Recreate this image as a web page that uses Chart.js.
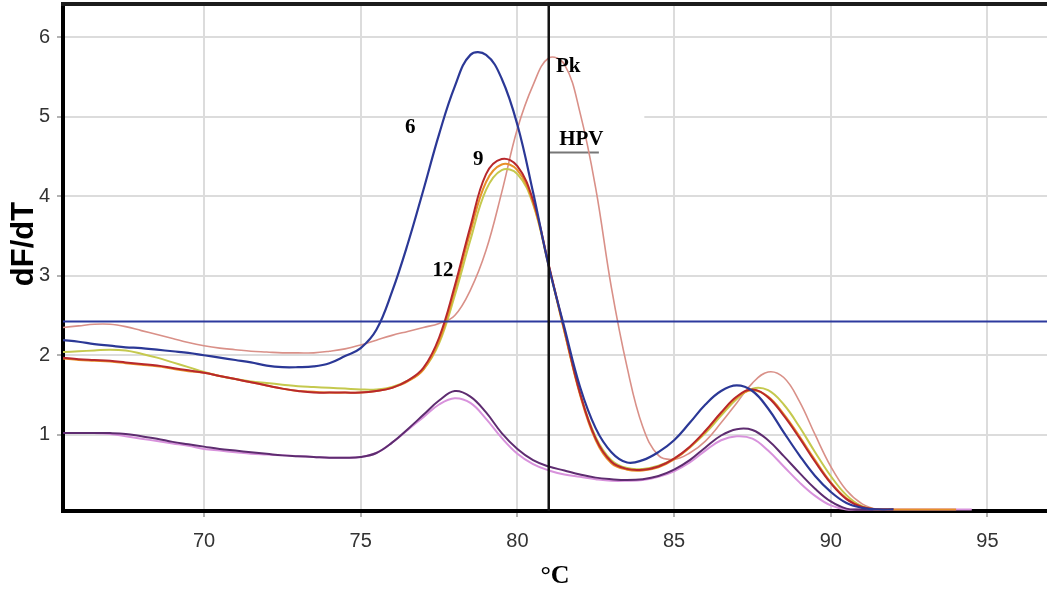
<!DOCTYPE html>
<html><head><meta charset="utf-8">
<script src="https://cdn.jsdelivr.net/npm/chart.js@4.4.1/dist/chart.umd.min.js"></script>
<style>html,body{margin:0;padding:0;background:#fff;}#wrap{position:relative;width:1047px;height:592px;}</style>
</head><body><div id="wrap"><canvas id="c"></canvas></div>
<script>
// Temperature grid (°C)
const temperatures = [65.5,66,66.5,67,67.5,68,68.5,69,69.5,70,
70.5,71,71.5,72,72.5,73,73.5,74,74.5,75,
75.5,76,76.5,77,77.5,78,78.5,79,79.5,80,
80.5,81,81.5,82,82.5,83,83.5,84,84.5,85,
85.5,86,86.5,87,87.5,88,88.5,89,89.5,90,
90.5,91,91.5,92,92.5,93,93.5,94,94.5];

// dF/dT series
const curve6 = [2.19,2.17,2.14,2.12,2.10,2.09,2.07,2.05,2.03,2.00,
1.97,1.94,1.91,1.87,1.85,1.85,1.86,1.90,1.99,2.09,
2.32,2.80,3.40,4.08,4.78,5.38,5.78,5.78,5.48,4.90,
4.05,3.12,2.35,1.60,1.08,0.78,0.65,0.68,0.78,0.93,
1.15,1.38,1.55,1.62,1.55,1.33,1.03,0.74,0.48,0.28,
0.14,0.08,0.06,0.06,null,null,null,null,null];

const curvePk = [2.35,2.37,2.39,2.39,2.36,2.31,2.26,2.21,2.16,2.12,
2.09,2.07,2.05,2.04,2.03,2.03,2.03,2.05,2.08,2.13,
2.19,2.25,2.30,2.35,2.40,2.50,2.82,3.32,4.05,4.85,
5.40,5.74,5.66,5.05,4.10,2.85,1.85,1.10,0.74,0.69,
0.77,0.92,1.15,1.40,1.65,1.79,1.72,1.42,1.00,0.60,
0.30,0.13,0.06,0.06,null,null,null,null,null];

const curve9 = [1.97,1.95,1.94,1.93,1.91,1.89,1.87,1.84,1.81,1.78,
1.74,1.70,1.66,1.62,1.58,1.55,1.53,1.53,1.53,1.53,
1.55,1.59,1.68,1.84,2.22,2.87,3.62,4.28,4.47,4.38,
3.95,3.14,2.32,1.52,0.95,0.66,0.57,0.56,0.60,0.70,
0.85,1.05,1.28,1.48,1.57,1.47,1.24,0.96,0.66,0.39,
0.19,0.09,0.06,0.06,null,null,null,null,null];

const curve12 = [1.96,1.94,1.93,1.92,1.90,1.88,1.86,1.83,1.80,1.78,
1.74,1.70,1.66,1.62,1.58,1.55,1.54,1.53,1.53,1.53,
1.55,1.59,1.67,1.82,2.18,2.82,3.55,4.18,4.40,4.33,
3.92,3.13,2.30,1.50,0.93,0.64,0.56,0.55,0.59,0.69,
0.84,1.04,1.27,1.47,1.56,1.48,1.26,0.98,0.68,0.40,
0.20,0.09,0.06,0.06,0.06,0.06,0.06,0.06,null];

const curveYellow = [2.04,2.05,2.06,2.07,2.06,2.02,1.97,1.91,1.85,1.79,
1.74,1.70,1.67,1.65,1.63,1.61,1.60,1.59,1.58,1.57,
1.57,1.60,1.68,1.82,2.15,2.75,3.45,4.08,4.33,4.28,
3.90,3.12,2.30,1.52,0.97,0.68,0.58,0.57,0.61,0.70,
0.84,1.02,1.24,1.45,1.58,1.56,1.38,1.10,0.78,0.48,
0.24,0.10,0.06,0.06,null,null,null,null,null];

const curvePurple = [1.02,1.02,1.02,1.02,1.01,0.98,0.95,0.91,0.88,0.85,
0.82,0.80,0.78,0.76,0.74,0.73,0.72,0.71,0.71,0.72,
0.77,0.90,1.07,1.25,1.43,1.55,1.48,1.28,1.02,0.82,
0.68,0.60,0.55,0.50,0.46,0.44,0.43,0.44,0.48,0.56,
0.68,0.84,0.99,1.07,1.06,0.93,0.73,0.52,0.32,0.16,
0.07,0.06,0.06,0.06,null,null,null,null,null];

const curveViolet = [1.02,1.02,1.02,1.01,0.98,0.95,0.92,0.89,0.86,0.82,
0.80,0.78,0.76,0.75,0.74,0.73,0.72,0.71,0.71,0.72,
0.77,0.90,1.06,1.22,1.38,1.46,1.40,1.20,0.96,0.76,
0.63,0.55,0.50,0.47,0.44,0.42,0.42,0.43,0.47,0.54,
0.65,0.80,0.93,0.98,0.95,0.80,0.60,0.40,0.23,0.11,
0.06,0.06,0.06,0.06,0.06,0.06,0.06,0.06,0.06];

// Axis ticks / ranges
const xTickValues = [70,75,80,85,90,95];
const yTickValues = [1,2,3,4,5,6];
const xRange = [65.5, 96.9];
const yRange = [0.04, 6.42];

// Reference lines
const thresholdX = [65.5, 96.9];
const thresholdY = [2.425, 2.425];
const markerX = [81.0, 81.0];
const markerY = [0.04, 6.42];

// Curve annotations (data coordinates)
const annoTexts = ['6','9','12','Pk','HPV'];
const annoX = [76.58, 78.75, 77.63, 81.62, 82.04];
const annoY = [4.86, 4.46, 3.07, 5.63, 4.72];
const hpvBoxX = [81.0, 84.05, 82.6];
const hpvBoxY = [5.0, 4.55];

const toXY = (xs, ys) => xs.map((t, i) => ({x: t, y: ys[i]}));

function curve(label, values, color, width) {
  return {label, data: toXY(temperatures, values), borderColor: color, borderWidth: width,
    pointRadius: 0, tension: 0.4, fill: false, spanGaps: false};
}

const decor = {
  id: 'decor',
  beforeDatasetsDraw(chart) {
    const {ctx, scales: {x, y}} = chart;
    const bx0 = x.getPixelForValue(hpvBoxX[0]), bx1 = x.getPixelForValue(hpvBoxX[1]);
    const by0 = y.getPixelForValue(hpvBoxY[0]), by1 = y.getPixelForValue(hpvBoxY[1]);
    ctx.save();
    ctx.fillStyle = '#ffffff';
    ctx.fillRect(bx0, by0 - 2, bx1 - bx0, by1 - by0 + 2);
    ctx.strokeStyle = '#777777';
    ctx.lineWidth = 2;
    ctx.beginPath();
    ctx.moveTo(bx0, by1);
    ctx.lineTo(x.getPixelForValue(hpvBoxX[2]), by1);
    ctx.stroke();
    ctx.restore();
  },
  afterDraw(chart) {
    const {ctx, chartArea: a, scales: {x, y}} = chart;
    ctx.save();
    ctx.strokeStyle = '#1c1c1c';
    ctx.lineWidth = 4;
    ctx.beginPath();
    ctx.moveTo(a.left - 2, a.top);
    ctx.lineTo(a.right, a.top);
    ctx.stroke();
    ctx.fillStyle = '#000';
    ctx.font = 'bold 21px "Liberation Serif", "Times New Roman", serif';
    ctx.textAlign = 'center';
    ctx.textBaseline = 'middle';
    annoTexts.forEach((t, i) => {
      ctx.fillText(t, x.getPixelForValue(annoX[i]), y.getPixelForValue(annoY[i]));
    });
    ctx.translate(24, 244);
    ctx.rotate(-Math.PI / 2);
    ctx.font = 'bold 31px "Liberation Sans", Arial, sans-serif';
    ctx.fillText('dF/dT', 0, 0);
    ctx.restore();
  }
};

const tickFont = {family: '"Liberation Sans", Arial, sans-serif', size: 20};

new Chart(document.getElementById('c'), {
  type: 'line',
  data: {
    datasets: [
      {label: 'marker', data: toXY(markerX, markerY), borderColor: '#111111', borderWidth: 2.5, pointRadius: 0, tension: 0},
      {label: 'threshold', data: toXY(thresholdX, thresholdY), borderColor: '#2d3a9e', borderWidth: 2, pointRadius: 0, tension: 0},
      curve('6', curve6, '#2b3896', 2.2),
      curve('9', curve9, '#b8282c', 2),
      curve('12', curve12, '#e8902a', 2),
      curve('yellow', curveYellow, '#c5c94e', 2),
      curve('Pk', curvePk, '#d99088', 1.6),
      curve('purple', curvePurple, '#5e2c70', 2),
      curve('violet', curveViolet, '#d892dc', 2)
    ]
  },
  options: {
    responsive: true,
    maintainAspectRatio: false,
    animation: false,
    layout: {padding: {top: 4, right: 0, bottom: 0, left: 0}},
    plugins: {legend: {display: false}, tooltip: {enabled: false}},
    scales: {
      x: {
        type: 'linear',
        min: xRange[0], max: xRange[1],
        afterBuildTicks: s => { s.ticks = xTickValues.map(v => ({value: v})); },
        afterFit: s => { s.height = 81; s.paddingLeft = 0; s.paddingRight = 0; },
        grid: {color: '#dcdcdc', lineWidth: 2, tickLength: 6, tickColor: '#999', tickWidth: 1.5},
        border: {display: true, color: '#000', width: 4},
        ticks: {font: tickFont, color: '#333', padding: 12, maxRotation: 0},
        title: {display: true, text: '°C', color: '#000',
          font: {family: '"Liberation Serif", "Times New Roman", serif', size: 26, weight: 'bold'},
          padding: {top: 0, bottom: 0}}
      },
      y: {
        type: 'linear',
        min: yRange[0], max: yRange[1],
        afterBuildTicks: s => { s.ticks = yTickValues.map(v => ({value: v})); },
        afterFit: s => { s.width = 63; s.paddingTop = 0; s.paddingBottom = 0; },
        grid: {color: '#dcdcdc', lineWidth: 2, tickLength: 6, tickColor: '#999', tickWidth: 1.5},
        border: {display: true, color: '#000', width: 4},
        ticks: {font: tickFont, color: '#333', padding: 7}
      }
    }
  },
  plugins: [decor]
});
</script></body></html>
